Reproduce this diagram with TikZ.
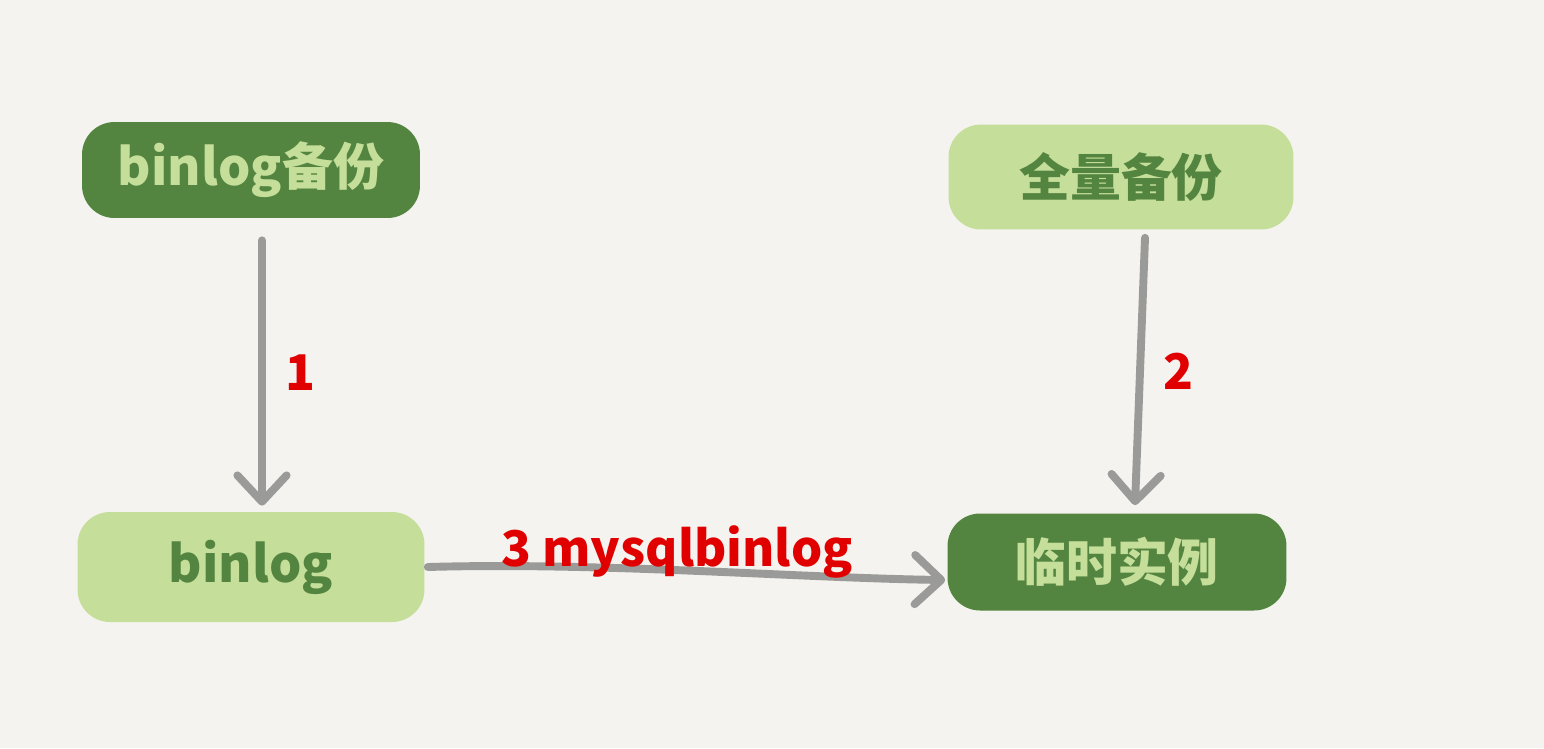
\documentclass[tikz,border=0pt]{standalone}
\usepackage{fontspec}
\setmainfont{Noto Sans CJK SC}
\usetikzlibrary{arrows.meta}
\definecolor{bg}{HTML}{F4F3EF}
\definecolor{dkgreen}{HTML}{548540}
\definecolor{ltgreen}{HTML}{C5DF9B}
\definecolor{arrgray}{HTML}{9A9A98}
\definecolor{lblred}{HTML}{E00000}
\tikzset{
  darkbox/.style={fill=dkgreen, text=ltgreen, rounded corners=0.65cm, inner sep=0pt, font=\bfseries\fontsize{29}{34}\selectfont},
  lightbox/.style={fill=ltgreen, text=dkgreen, rounded corners=0.65cm, inner sep=0pt, font=\bfseries\fontsize{29}{34}\selectfont},
  arr/.style={draw=arrgray, line width=4.5pt, line cap=round, -{Straight Barb[length=15pt,width=28pt,line width=4.5pt,round]}},
  lbl/.style={text=lblred, font=\bfseries\fontsize{28}{33}\selectfont, inner sep=0pt}
}
\begin{document}
\begin{tikzpicture}[x=0.02cm,y=-0.02cm]
\fill[bg] (0,0) rectangle (1544,748);
\useasboundingbox (0,0) rectangle (1544,748);
\node[darkbox, minimum width=6.76cm, minimum height=1.92cm] (a) at (251,170) {binlog备份};
\node[lightbox, minimum width=6.9cm, minimum height=2.1cm] (c) at (1121,177) {全量备份};
\node[lightbox, minimum width=6.94cm, minimum height=2.2cm] (b) at (251,567) {binlog};
\node[darkbox, minimum width=6.78cm, minimum height=1.94cm] (d) at (1117,562) {临时实例};
\draw[arr] ([shift={(11,22)}]a.south) -- node[lbl, right=0.4cm] (l1) {1} ([shift={(11,-6)}]b.north);
\draw[arr] ([shift={(24,8)}]c.south) -- node[lbl, right=0.4cm] (l2) {2} ([shift={(18,-8)}]d.north);
\draw[arr] ([shift={(3,0)}]b.east) .. controls (600,562) and (800,578) .. ([shift={(-2,18)}]d.west);
\node[lbl] (l3) at (677,552) {3 mysqlbinlog};
\end{tikzpicture}
\end{document}
